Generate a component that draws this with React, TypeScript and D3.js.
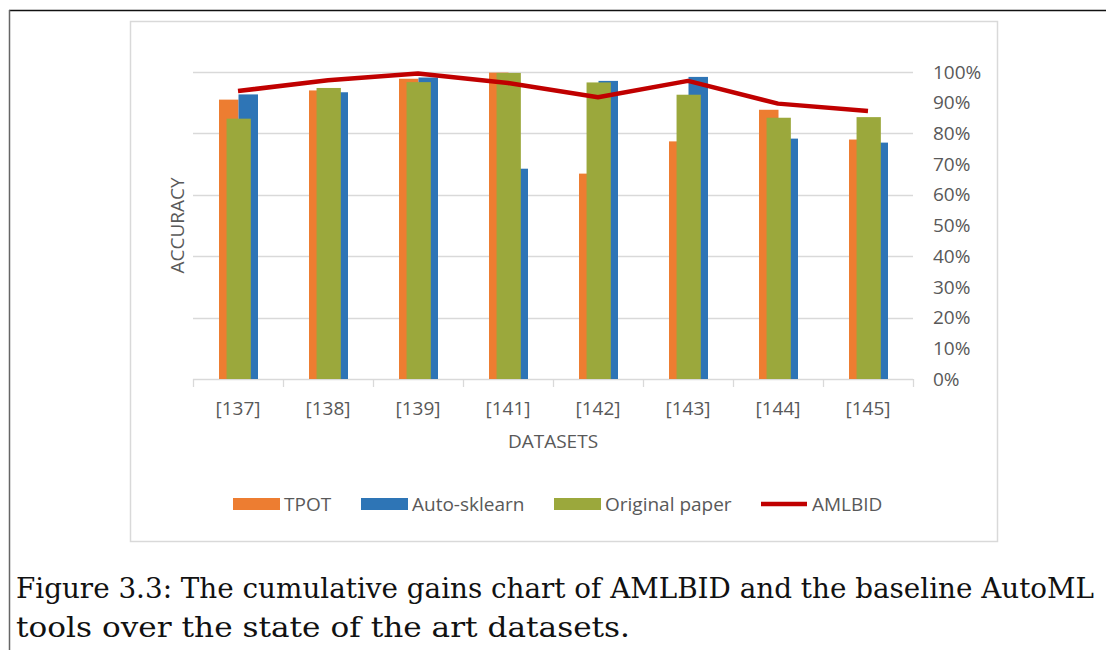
import React from "react";
import * as d3 from "d3";

const categories = ["[137]", "[138]", "[139]", "[141]", "[142]", "[143]", "[144]", "[145]"];
const tpot = [0.91, 0.94, 0.978, 0.998, 0.669, 0.774, 0.877, 0.78];
const autoSklearn = [0.927, 0.934, 0.982, 0.685, 0.971, 0.984, 0.783, 0.77];
const originalPaper = [0.848, 0.948, 0.967, 0.997, 0.966, 0.926, 0.851, 0.853];
const amlbid = [0.938, 0.973, 0.995, 0.964, 0.918, 0.971, 0.897, 0.873];
const gridTicks = [0, 0.2, 0.4, 0.6, 0.8, 1.0];
const labelTicks = [0, 0.1, 0.2, 0.3, 0.4, 0.5, 0.6, 0.7, 0.8, 0.9, 1.0];
const legendItems = [
  { name: "TPOT", kind: "bar" },
  { name: "Auto-sklearn", kind: "bar" },
  { name: "Original paper", kind: "bar" },
  { name: "AMLBID", kind: "line" },
];
const captionLines = [
  "Figure 3.3: The cumulative gains chart of AMLBID and the baseline AutoML",
  "tools over the state of the art datasets.",
];

const COLORS: Record<string, string> = {
  TPOT: "#ED7D31",
  "Auto-sklearn": "#2E75B6",
  "Original paper": "#9BA83C",
  AMLBID: "#C00000",
};

const TEXT = "#595959";
const GRID = "#D9D9D9";
const FONT = "'Open Sans', sans-serif";
const SERIF = "'DejaVu Serif', serif";

export default function App() {
  const W = 1106;
  const H = 650;
  const x = d3.scaleBand<string>().domain(categories).range([193, 913]).padding(0);
  const y = d3.scaleLinear().domain([0, 1]).range([379, 72]);
  const pair = d3.scaleBand<string>().domain(["TPOT", "Auto-sklearn"]).range([-19, 20]).padding(0);
  const greenW = x.bandwidth() * 0.27;
  const center = (c: string) => (x(c) as number) + x.bandwidth() / 2;

  const line = d3
    .line<number>()
    .x((_, i) => center(categories[i]))
    .y((d) => y(d));

  const fmt = d3.format(".0%");
  const legendX = [233, 361, 554, 761];
  const captionLengths = [1078, 614];

  return (
    <svg
      width={W}
      height={H}
      style={{ position: "absolute", left: 0, top: 0, background: "#fff" }}
    >
      <rect x={0} y={0} width={W} height={H} fill="#fff" />
      {/* outer frame */}
      <line x1={9} x2={W} y1={10.5} y2={10.5} stroke="#111" strokeWidth={1.5} />
      <line x1={9.5} x2={9.5} y1={10} y2={H} stroke="#666" strokeWidth={1.5} />
      {/* chart box */}
      <rect x={130.5} y={21.5} width={867} height={520} fill="#fff" stroke={GRID} strokeWidth={1.5} />

      {/* gridlines */}
      {gridTicks.map((t) => (
        <line key={t} x1={193} x2={913} y1={Math.round(y(t)) + 0.5} y2={Math.round(y(t)) + 0.5} stroke={GRID} strokeWidth={1.3} />
      ))}
      {/* category ticks */}
      {categories.concat([""]).map((c, i) => {
        const xx = i < categories.length ? (x(c) as number) : 913;
        return <line key={"t" + i} x1={xx + 0.5} x2={xx + 0.5} y1={379} y2={387} stroke={GRID} strokeWidth={1.3} />;
      })}

      {/* bars */}
      {categories.map((c, i) => (
        <g key={c}>
          <rect x={center(c) + (pair("TPOT") as number)} y={y(tpot[i])} width={pair.bandwidth()} height={y(0) - y(tpot[i])} fill={COLORS.TPOT} />
          <rect x={center(c) + (pair("Auto-sklearn") as number)} y={y(autoSklearn[i])} width={pair.bandwidth()} height={y(0) - y(autoSklearn[i])} fill={COLORS["Auto-sklearn"]} />
          <rect x={center(c) + 0.7 - greenW / 2} y={y(originalPaper[i])} width={greenW} height={y(0) - y(originalPaper[i])} fill={COLORS["Original paper"]} />
        </g>
      ))}

      {/* AMLBID line */}
      <path d={line(amlbid) as string} fill="none" stroke={COLORS.AMLBID} strokeWidth={4.5} strokeLinejoin="round" />

      {/* right axis labels */}
      {labelTicks.map((t) => (
        <text key={t} x={933} y={y(t)} dy="0.35em" fill={TEXT} fontFamily={FONT} fontSize={19}>
          {fmt(t)}
        </text>
      ))}

      {/* category labels */}
      {categories.map((c) => (
        <text key={c} x={center(c)} y={408} dy="0.35em" textAnchor="middle" fill={TEXT} fontFamily={FONT} fontSize={19}>
          {c}
        </text>
      ))}

      <text x={553} y={441} dy="0.35em" textAnchor="middle" fill={TEXT} fontFamily={FONT} fontSize={19}>
        DATASETS
      </text>
      <text transform="translate(177,225.5) rotate(-90)" dy="0.35em" textAnchor="middle" fill={TEXT} fontFamily={FONT} fontSize={19}>
        ACCURACY
      </text>

      {/* legend */}
      {legendItems.map((it, i) => (
        <g key={it.name} transform={`translate(${legendX[i]},504)`}>
          {it.kind === "bar" ? (
            <rect x={0} y={-6} width={47} height={12} fill={COLORS[it.name]} />
          ) : (
            <line x1={0} x2={46} y1={0} y2={0} stroke={COLORS[it.name]} strokeWidth={4.5} />
          )}
          <text x={51} y={0} dy="0.35em" fill={TEXT} fontFamily={FONT} fontSize={19}>
            {it.name}
          </text>
        </g>
      ))}

      {/* caption */}
      {captionLines.map((l, i) => (
        <text
          key={i}
          x={16}
          y={598 + i * 39}
          fill="#111"
          fontFamily={SERIF}
          fontSize={27.5}
          textLength={captionLengths[i]}
          lengthAdjust="spacingAndGlyphs"
        >
          {l}
        </text>
      ))}
    </svg>
  );
}
